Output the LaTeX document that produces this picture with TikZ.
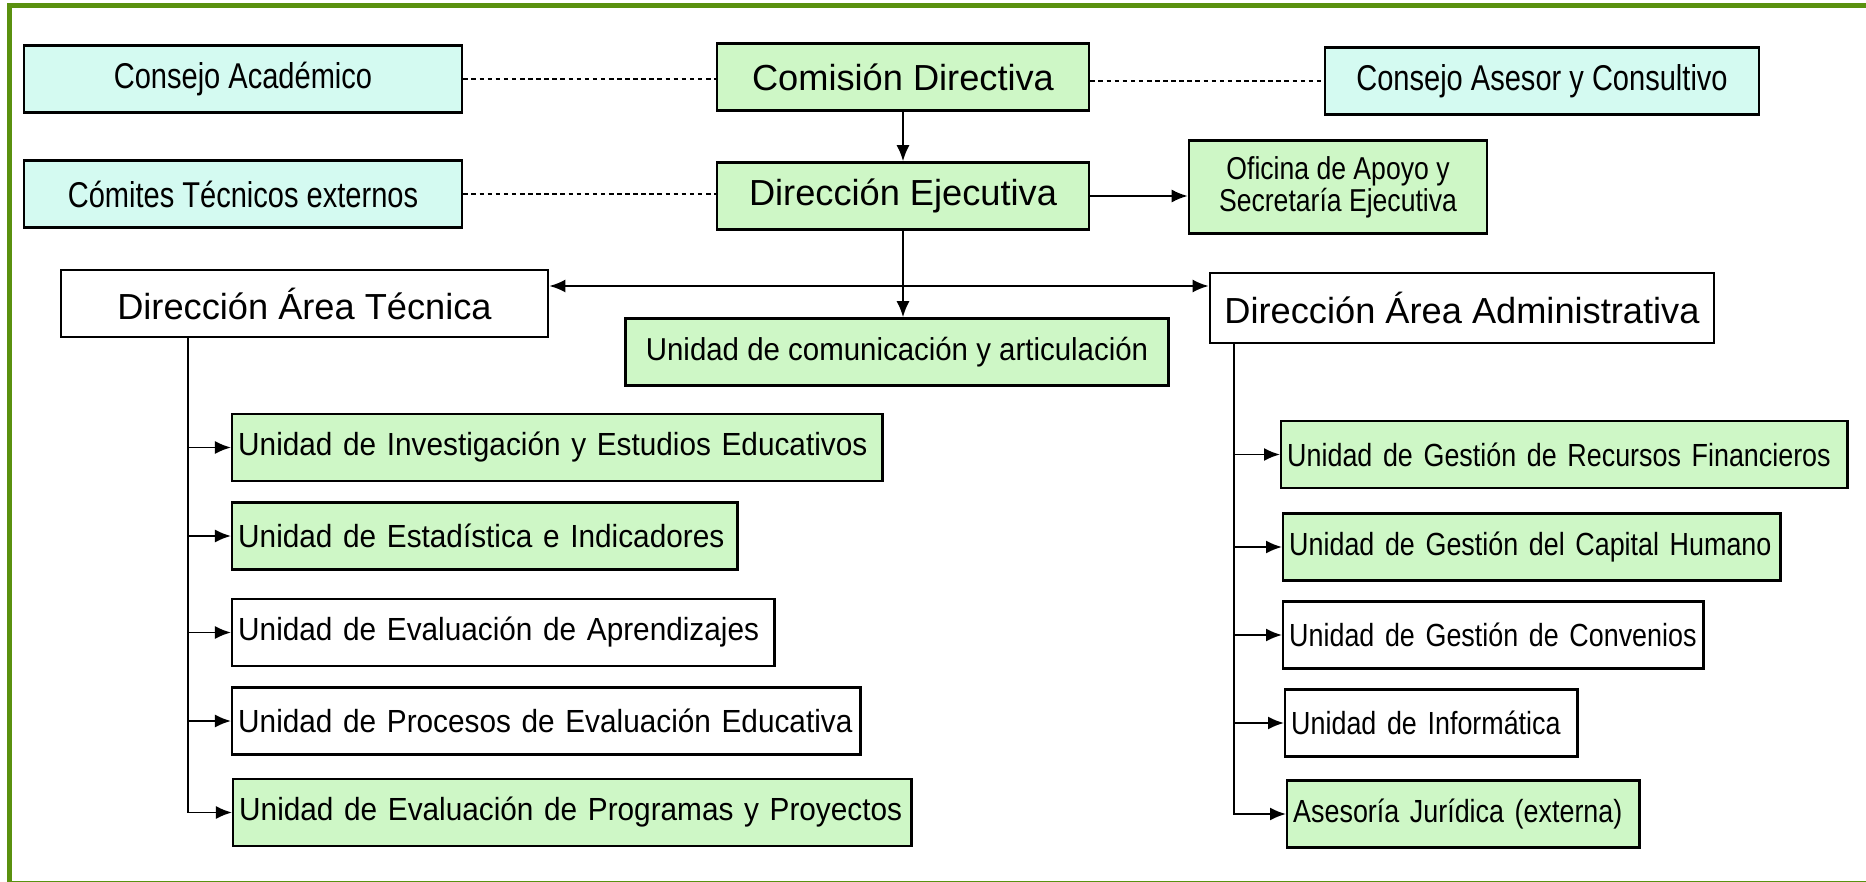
\documentclass[tikz,border=0pt]{standalone}
\usepackage{fontspec}
\setmainfont{Liberation Sans}
\newfontfamily\unitfont[FakeStretch=0.93]{Liberation Sans}
\newfontfamily\narrowfont[FakeStretch=0.84]{Liberation Sans}
\newfontfamily\condfont[FakeStretch=0.81]{Liberation Sans}
\usetikzlibrary{shapes,arrows,arrows.meta,positioning,calc}
\definecolor{unitgreen}{RGB}{206,247,198}
\definecolor{councilcyan}{RGB}{212,250,241}
\definecolor{framegreen}{RGB}{90,145,15}

\begin{document}
\begin{tikzpicture}[
    x=0.01cm, y=-0.01cm,
    box/.style={rectangle, draw, line width=0.7pt, minimum height=0.67cm, align=center, inner sep=0.08cm},
    head/.style={box, font=\fontsize{10.3}{12}\selectfont},
    council/.style={box, fill=councilcyan, minimum width=4.38cm, font=\condfont\fontsize{10.2}{12}\selectfont},
    unit/.style={box, anchor=west, align=left, inner xsep=0.06cm, font=\unitfont\fontsize{9.1}{10}\selectfont},
    runit/.style={unit, font=\narrowfont\fontsize{9.1}{10}\selectfont},
    arrow/.style={-{Latex[length=0.16cm,width=0.13cm]}, line width=0.55pt},
    dotline/.style={line width=0.5pt, dash pattern=on 1.3pt off 1pt}
]
\useasboundingbox (0,0) rectangle (1866,882);
\draw[line width=0.05cm, framegreen] (9.5,5.5) rectangle (1900,883.5);

% Direction
\node[council] (acad) at (243,79) {Consejo Académico};
\node[head, fill=unitgreen, minimum width=3.72cm] (comision) at (903,77) {Comisión Directiva};
\node[council, minimum width=4.34cm] (asesor) at (1542,81) {Consejo Asesor y Consultivo};
\node[council] (comites) at (243,194) {Cómites Técnicos externos};
\node[head, fill=unitgreen, minimum width=3.72cm] (ejecutiva) at (903,196) {Dirección Ejecutiva};
\node[box, fill=unitgreen, minimum width=2.98cm, minimum height=0.93cm, font=\narrowfont\fontsize{9}{9.1}\selectfont] (oficina) at (1338,187) {Oficina de Apoyo y\\Secretaría Ejecutiva};

% Areas
\node[head, minimum width=4.87cm] (tecnica) at (304.5,303.5) {Dirección Área Técnica};
\node[head, minimum width=5.04cm, minimum height=0.70cm] (admin) at (1462,308) {Dirección Área Administrativa};
\node[box, fill=unitgreen, minimum width=5.43cm, font=\unitfont\fontsize{9}{10}\selectfont] (comunic) at (897,352) {Unidad de comunicación y articulación};
\coordinate (hub) at (903,286);

% Technical units
\node[unit, fill=unitgreen, text width=6.38cm] (invest) at (231,447.5) {Unidad de Investigación y Estudios Educativos};
\node[unit, fill=unitgreen, text width=4.93cm] (estad) at (231,536) {Unidad de Estadística e Indicadores};
\node[unit, text width=5.30cm] (aprend) at (231,632.5) {Unidad de Evaluación de Aprendizajes};
\node[unit, text width=6.16cm] (proces) at (231,721) {Unidad de Procesos de Evaluación Educativa};
\node[unit, fill=unitgreen, text width=6.66cm] (progr) at (232,812.5) {Unidad de Evaluación de Programas y Proyectos};
\coordinate (ltop) at ([xshift=-1.165cm]tecnica.south);

% Administrative units
\node[runit, fill=unitgreen, text width=5.54cm] (recur) at (1280,454.5) {Unidad de Gestión de Recursos Financieros};
\node[runit, fill=unitgreen, text width=4.85cm] (capit) at (1282,547) {Unidad de Gestión del Capital Humano};
\node[runit, text width=4.08cm] (conven) at (1282,635) {Unidad de Gestión de Convenios};
\node[runit, text width=2.80cm] (inform) at (1284,723) {Unidad de Informática};
\node[runit, fill=unitgreen, text width=3.40cm] (jurid) at (1286,814) {Asesoría Jurídica (externa)};
\coordinate (rtop) at ([xshift=0.25cm]admin.south west);

% Arrows
\draw[dotline] (acad.east) -- (acad.east -| comision.west);
\draw[dotline] (comision.east |- asesor.west) -- (asesor.west);
\draw[dotline] (comites.east) -- (comites.east -| ejecutiva.west);
\draw[arrow] (comision) -- (ejecutiva);
\draw[arrow] (ejecutiva.east) -- (ejecutiva.east -| oficina.west);
\draw[arrow] (ejecutiva) -- (ejecutiva |- comunic.north);
\draw[arrow, {Latex[length=0.16cm,width=0.13cm]}-{Latex[length=0.16cm,width=0.13cm]}] (tecnica.east |- hub) -- (admin.west |- hub);
\draw[arrow] (ltop) |- (progr.west);
\foreach \n in {invest,estad,aprend,proces}
    \draw[arrow] (ltop |- \n.west) -- (\n.west);
\draw[arrow] (rtop) |- (jurid.west);
\foreach \n in {recur,capit,conven,inform}
    \draw[arrow] (rtop |- \n.west) -- (\n.west);

\end{tikzpicture}
\end{document}
